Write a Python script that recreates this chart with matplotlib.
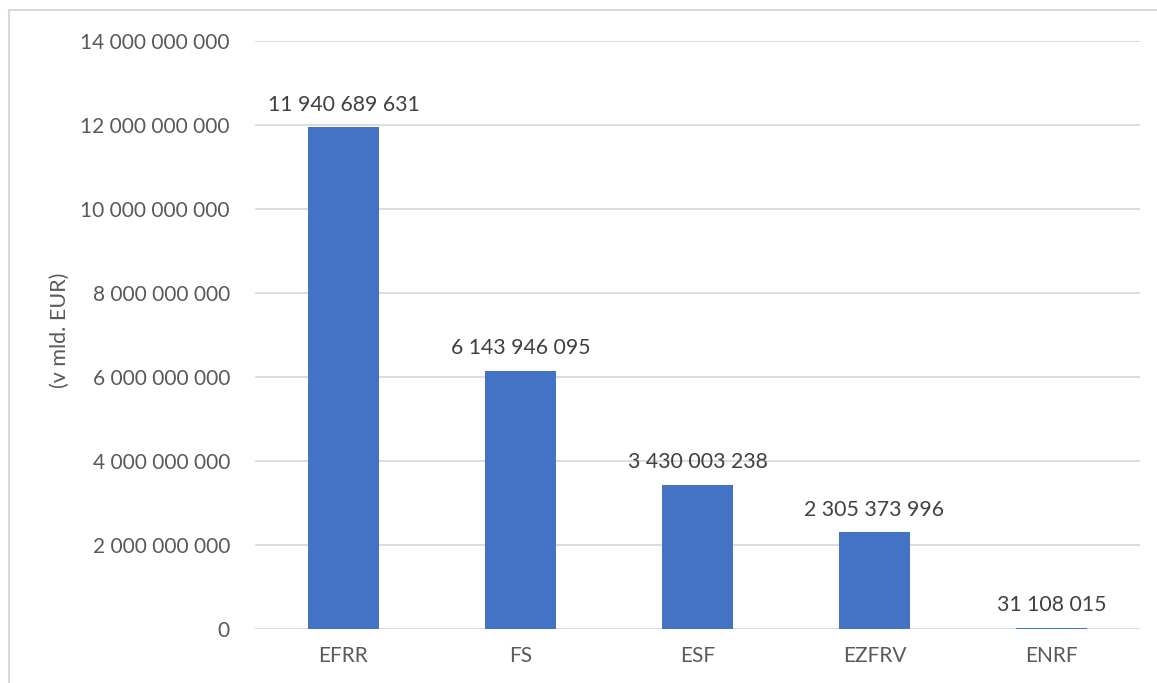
import matplotlib
matplotlib.use("Agg")
import matplotlib.pyplot as plt
from matplotlib.lines import Line2D

# Data
funds = ["EFRR", "FS", "ESF", "EZFRV", "ENRF"]
amounts = [11940689631, 6143946095, 3430003238, 2305373996, 31108015]
y_ticks = [0, 2e9, 4e9, 6e9, 8e9, 10e9, 12e9, 14e9]

BAR_COLOR = "#4472C4"
GRID_COLOR = "#D9D9D9"
TICK_COLOR = "#595959"
LABEL_COLOR = "#404040"
FONT = ["Lato", "DejaVu Sans"]

plt.rcParams["font.family"] = FONT


def fmt(v):
    return f"{int(v):,}".replace(",", " ")


W, H = 1157, 683
fig = plt.figure(figsize=(W / 100, H / 100), dpi=100)
ax = fig.add_axes([255 / W, 1 - 629 / H, (1140 - 255) / W, (629 - 41) / H])

x = range(len(funds))
bars = ax.bar(x, amounts, width=0.4, color=BAR_COLOR, zorder=3)

for rect, v in zip(bars, amounts):
    ax.annotate(fmt(v), (rect.get_x() + rect.get_width() / 2, v),
                xytext=(0, 9), textcoords="offset points",
                ha="center", va="bottom", fontsize=15.3, color=LABEL_COLOR)

ax.set_xlim(-0.5, len(funds) - 0.5)
ax.set_ylim(0, 14e9)
ax.set_yticks(y_ticks)
ax.set_yticklabels([fmt(t) for t in y_ticks])
ax.set_xticks(list(x))
ax.set_xticklabels(funds)
ax.tick_params(axis="both", length=0, labelsize=15, colors=TICK_COLOR)
ax.tick_params(axis="y", pad=18)
ax.tick_params(axis="x", pad=12)

ax.grid(axis="y", color=GRID_COLOR, linewidth=1.3, zorder=0)
for s in ax.spines.values():
    s.set_visible(False)
ax.axhline(0, color=GRID_COLOR, linewidth=1.3, zorder=2)

fig.text(60 / W, 1 - 330 / H, "(v mld. EUR)", rotation=90, ha="center",
         va="center", fontsize=15.5, color=TICK_COLOR)

# chart frame (top and left visible in the crop)
fig.add_artist(Line2D([9 / W, 1], [1 - 10 / H, 1 - 10 / H], color=GRID_COLOR,
                      linewidth=1.5, transform=fig.transFigure))
fig.add_artist(Line2D([9 / W, 9 / W], [0, 1 - 10 / H], color=GRID_COLOR,
                      linewidth=1.5, transform=fig.transFigure))

fig.savefig("out.png", dpi=100)
